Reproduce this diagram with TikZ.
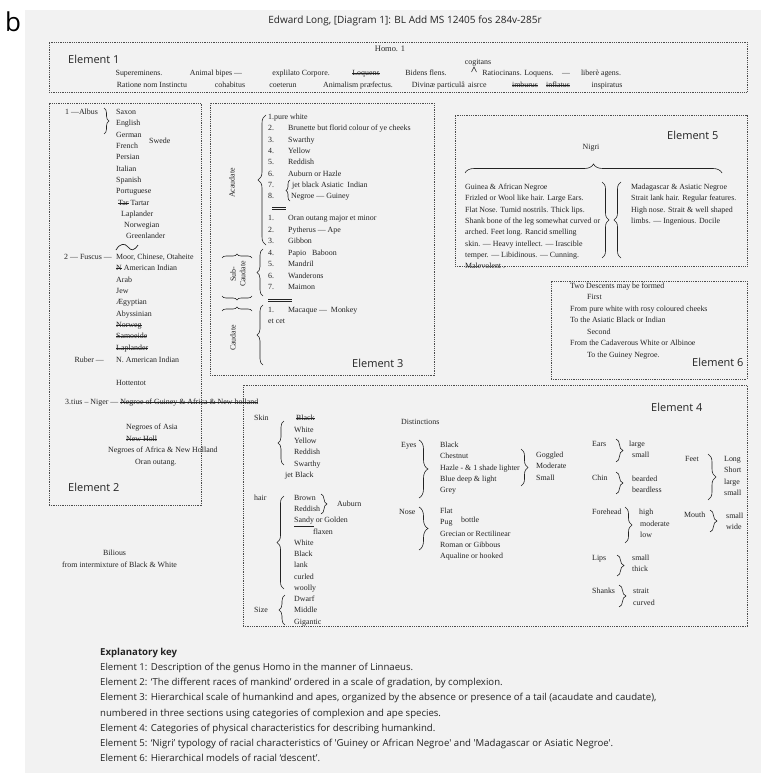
\documentclass[tikz,border=0pt]{standalone}
\usepackage{fontspec}
\setmainfont{Liberation Serif}
\newfontfamily\keyfont{Open Sans}
\usepackage{xcolor}
\usepackage{tikz}
\usetikzlibrary{decorations.pathreplacing}

\definecolor{panelgrey}{RGB}{242,242,242}
\definecolor{inkgrey}{RGB}{35,35,35}

% struck-through manuscript words
\newcommand{\strk}[1]{\setbox0\hbox{#1}\rlap{\rule[0.55ex]{\wd0}{0.5pt}}\box0}

\tikzset{
  elembox/.style={rectangle, draw=black!70, line width=0.8pt,
                  dash pattern=on 0.9pt off 0.9pt, inner sep=0pt},
  elemlabel/.style={anchor=west, inner sep=0pt, text=inkgrey,
                    font=\keyfont\fontsize{11}{13}\selectfont},
  keyline/.style={anchor=base west, inner sep=0pt, yshift=-3.3pt, text=inkgrey,
                  font=\keyfont\fontsize{9.6}{12}\selectfont},
  ms/.style={anchor=base west, inner sep=0pt, yshift=-2.6pt, text=inkgrey,
             font=\fontsize{7.9}{9.5}\selectfont},
  msc/.style={ms, anchor=base},
  mse/.style={ms, anchor=base east},
  rot/.style={inner sep=0pt, rotate=90, text=inkgrey, font=\fontsize{7.9}{9.5}\selectfont},
  curly/.style={decorate, decoration={brace, amplitude=#1}, draw=inkgrey, line width=0.6pt},
  curly/.default=6pt
}

\begin{document}
\begin{tikzpicture}[x=1pt, y=-1pt]

    \useasboundingbox (0,0) rectangle (761,773);
    \fill[white] (0,0) rectangle (761,773);
    \fill[panelgrey] (25,10) rectangle (761,773);

    \node[inner sep=0pt, font=\keyfont\fontsize{26}{28}\selectfont] (panelb) at (13,22) {b};
    \node[inner sep=0pt, text=inkgrey, font=\keyfont\fontsize{10}{12}\selectfont] (title) at (405,21)
        {Edward Long, [Diagram 1]: BL Add MS 12405 fos 284v-285r};

    % Element 1 : Homo
    \node[elembox, minimum width=698pt, minimum height=50pt] (elem1) at (398,67) {};
    \node[elemlabel] (elem1lab) at (68,59) {Element 1};
    \node[msc, font=\fontsize{8.4}{9}\selectfont] (homo) at (390,49) {Homo. 1};
    \node[msc] (supere) at (139,73) {Supereminens.};
    \node[msc] (bipes) at (216,73) {Animal bipes —};
    \node[msc] (explil) at (301,73) {explilato Corpore.};
    \node[msc] (loqA) at (366,73) {\strk{Loquens}};
    \node[msc] (bidens) at (426,73) {Bidens flens.};
    \node[msc] (cogit) at (478,62) {cogitans};
    \node[msc] (ratioc) at (518,73) {Ratiocinans. Loquens.};
    \node[msc] (dashA) at (566,73) {—};
    \node[msc] (libere) at (601,73) {liberè agens.};
    \node[msc] (ratione) at (152,85) {Ratione nom Instinctu};
    \node[msc] (cohab) at (230,85) {cohabitus};
    \node[msc] (coeter) at (283,85) {coeterun};
    \node[msc] (animal) at (358,85) {Animalism præfectus.};
    \node[mse] (divinae) at (465,85) {Divinæ particulâ};
    \node[ms] (aisrce) at (468,85) {aisrce};
    \node[msc] (imbur) at (525,85) {\strk{imburus}};
    \node[msc] (inflat) at (558,85) {\strk{inflatus}};
    \node[msc] (inspir) at (607,85) {inspiratus};
    \draw[inkgrey, line width=0.5pt] (471.5,72) -- (474,67) -- (476.5,72);

    % Element 2 : races by complexion
    \node[elembox, minimum width=152pt, minimum height=402pt] (elem2) at (125,304) {};
    \node[elemlabel] (elem2lab) at (68,487) {Element 2};
    \node[ms] (albus) at (65,112) {1 —Albus};
    \draw[curly=5pt] (104,108) -- (104,134);
    \node[ms] (saxon) at (116,112) {Saxon};
    \node[ms] (english) at (116,123.3) {English};
    \node[ms] (german) at (116,134.6) {German};
    \node[ms] (swede) at (149,141) {Swede};
    \node[ms] (french) at (116,145.9) {French};
    \node[ms] (persian) at (116,157.2) {Persian};
    \node[ms] (italian) at (116,168.5) {Italian};
    \node[ms] (spanish) at (116,179.8) {Spanish};
    \node[ms] (portug) at (116,191.1) {Portuguese};
    \node[ms] (tartar) at (118,202.4) {\strk{Tar}\ Tartar};
    \node[ms] (lapA) at (121,213.7) {Laplander};
    \node[ms] (norweg) at (124,225) {Norwegian};
    \node[ms] (greenl) at (126,236.3) {Greenlander};
    \draw[inkgrey, line width=0.7pt] (116,250) .. controls (120,243) and (125,243) .. (128,247)
        .. controls (131,251) and (134,251) .. (138,245);
    \node[ms] (fuscus) at (64,257) {2 — Fuscus —};
    \node[ms] (moor) at (116,257) {Moor, Chinese, Otaheite};
    \node[ms] (namer) at (116,268.3) {\strk{N}\ American Indian};
    \node[ms] (arab) at (116,279.6) {Arab};
    \node[ms] (jew) at (116,291) {Jew};
    \node[ms] (aegypt) at (116,302.3) {Ægyptian};
    \node[ms] (abyss) at (116,313.6) {Abyssinian};
    \node[ms] (norwB) at (116,325) {\strk{Norweg}};
    \node[ms] (samoe) at (116,336.3) {\strk{Samoeide}};
    \node[ms] (lapB) at (116,347.6) {\strk{Laplander}};
    \node[mse] (ruber) at (104,360) {Ruber —};
    \node[ms] (namerB) at (116,360) {N. American Indian};
    \node[ms] (hotten) at (116,383) {Hottentot};
    \node[ms] (niger) at (65,402) {3.tius – Niger — \strk{Negroe of Guiney \& Africa \& New holland}};
    \node[ms] (asia) at (126,427) {Negroes of Asia};
    \node[ms] (newholl) at (126,438.5) {\strk{New Holl}};
    \node[ms] (africa) at (108,450) {Negroes of Africa \& New Holland};
    \node[ms] (oran) at (135,462) {Oran outang.};

    % Element 3 : acaudate / caudate
    \node[elembox, minimum width=224pt, minimum height=272pt] (elem3) at (322,239) {};
    \node[elemlabel] (elem3lab) at (352,363) {Element 3};
    \node[rot] (acaud) at (232,183) {Acaudate};
    \draw[curly=8pt] (266,245) -- (266,115);
    \node[ms] (w1) at (268,117) {1.pure white};
    \node[ms] (n2) at (268,128.3) {2.};
    \node[ms] (w2) at (288,128.3) {Brunette but florid colour of ye cheeks};
    \node[ms] (n3) at (268,139.6) {3.};
    \node[ms] (w3) at (288,139.6) {Swarthy};
    \node[ms] (n4) at (268,150.9) {4.};
    \node[ms] (w4) at (288,150.9) {Yellow};
    \node[ms] (n5) at (268,162.2) {5.};
    \node[ms] (w5) at (288,162.2) {Reddish};
    \node[ms] (n6) at (268,173.5) {6.};
    \node[ms] (w6) at (288,173.5) {Auburn or Hazle};
    \node[ms] (n7) at (268,184.8) {7.};
    \node[ms] (w7) at (292,184.8) {jet black Asiatic\ \ Indian};
    \node[ms] (n8) at (268,196.1) {8.};
    \node[ms] (w8) at (291,196.1) {Negroe — Guiney};
    \draw[curly=4pt] (290,201) -- (290,180);
    \draw[inkgrey, line width=0.6pt] (272,207) -- (286,207) (272,209.5) -- (286,209.5);
    \node[ms] (a1) at (268,218) {1.};
    \node[ms] (oranB) at (288,218) {Oran outang major et minor};
    \node[ms] (a2) at (268,229.5) {2.};
    \node[ms] (pyth) at (288,229.5) {Pytherus — Ape};
    \node[ms] (a3) at (268,241) {3.};
    \node[ms] (gibbon) at (288,241) {Gibbon};
    \node[ms] (a4) at (268,252.5) {4.};
    \node[ms] (papio) at (288,252.5) {Papio\ \ \ Baboon};
    \node[ms] (a5) at (268,264) {5.};
    \node[ms] (mandril) at (288,264) {Mandril};
    \node[ms] (a6) at (268,275.5) {6.};
    \node[ms] (wander) at (288,275.5) {Wanderons};
    \node[ms] (a7) at (268,287) {7.};
    \node[ms] (maimon) at (288,287) {Maimon};
    \draw[curly=6pt] (263,296) -- (263,249);
    \node[rot, align=center] (subcaud) at (238,274) {Sub-\\Caudate};
    \draw[curly=4pt] (222,258) -- (252,258);
    \draw[curly=4pt] (252,296) -- (222,296);
    \draw[inkgrey, line width=0.6pt] (268,299) -- (292,299) (268,301.5) -- (292,301.5);
    \draw[curly=4pt] (222,311) -- (252,311);
    \node[ms] (c1) at (268,310) {1.};
    \node[ms] (macaq) at (288,310) {Macaque —\ \ Monkey};
    \node[ms] (etcet) at (268,321) {et cet};
    \draw[curly=6pt] (263,365) -- (263,305);
    \node[rot] (caud) at (233,338) {Caudate};

    % Element 5 : Nigri
    \node[elembox, minimum width=292pt, minimum height=151pt] (elem5) at (601,190.5) {};
    \node[elemlabel] (elem5lab) at (667,135) {Element 5};
    \node[msc] (nigri) at (591,147) {Nigri};
    \draw[curly=9pt] (465,173) -- (722,173);
    \node[ms] (gu1) at (465,187) {Guinea \& African Negroe};
    \node[ms] (gu2) at (465,198.3) {Frizled or Wool like hair. Large Ears.};
    \node[ms] (gu3) at (465,209.6) {Flat Nose. Tumid nostrils. Thick lips.};
    \node[ms] (gu4) at (465,220.9) {Shank bone of the leg somewhat curved or};
    \node[ms] (gu5) at (465,232.2) {arched. Feet long. Rancid smelling};
    \node[ms] (gu6) at (465,243.5) {skin. — Heavy intellect. — Irascible};
    \node[ms] (gu7) at (465,254.8) {temper. — Libidinous. — Cunning.};
    \node[ms] (gu8) at (465,266.1) {Malevolent .};
    \draw[curly=7pt] (602,182) -- (602,258);
    \draw[curly=7pt] (621,258) -- (621,182);
    \node[ms] (ma1) at (631,187) {Madagascar \& Asiatic Negroe};
    \node[ms] (ma2) at (631,198.3) {Strait lank hair. Regular features.};
    \node[ms] (ma3) at (631,209.6) {High nose. Strait \& well shaped};
    \node[ms] (ma4) at (631,220.9) {limbs. — Ingenious. Docile};

    % Element 6 : descents
    \node[elembox, minimum width=196pt, minimum height=98pt] (elem6) at (649,330) {};
    \node[elemlabel] (elem6lab) at (692,362) {Element 6};
    \node[ms] (de1) at (570,285.5) {Two Descents may be formed};
    \node[ms] (de2) at (587,297) {First};
    \node[ms] (de3) at (570,308.5) {From pure white with rosy coloured cheeks};
    \node[ms] (de4) at (570,320) {To the Asiatic Black or Indian};
    \node[ms] (de5) at (587,331.5) {Second};
    \node[ms] (de6) at (570,343) {From the Cadaverous White or Albinoe};
    \node[ms] (de7) at (587,354.5) {To the Guiney Negroe.};

    % Element 4 : distinctions
    \node[elembox, minimum width=504pt, minimum height=241pt] (elem4) at (495,505.5) {};
    \node[elemlabel] (elem4lab) at (651,407) {Element 4};
    \node[ms] (skin) at (254,418) {Skin};
    \draw[curly=6pt] (284,465) -- (284,421);
    \node[ms] (sk1) at (296,418) {\strk{Black}};
    \node[ms] (sk2) at (294,429.5) {White};
    \node[ms] (sk3) at (294,441) {Yellow};
    \node[ms] (sk4) at (294,452.3) {Reddish};
    \node[ms] (sk5) at (294,463.6) {Swarthy};
    \node[ms] (sk6) at (285,475) {jet Black};
    \node[ms] (hair) at (254,497.5) {hair};
    \draw[curly=7pt] (284,589) -- (284,496);
    \node[ms] (hr1) at (294,497.5) {Brown};
    \node[ms] (hr2) at (294,508.8) {Reddish};
    \draw[curly=6pt] (321,494) -- (321,514);
    \node[ms] (auburn) at (337,504) {Auburn};
    \node[ms] (hr3) at (294,520.1) {\underline{Sandy} or Golden};
    \node[ms] (hr4) at (313,531.4) {flaxen};
    \node[ms] (hr5) at (294,542.7) {White};
    \node[ms] (hr6) at (294,554) {Black};
    \node[ms] (hr7) at (294,565.3) {lank};
    \node[ms] (hr8) at (294,576.6) {curled};
    \node[ms] (hr9) at (294,587.9) {woolly};
    \node[ms] (size) at (254,610) {Size};
    \draw[curly=6pt] (285,625) -- (285,595);
    \node[ms] (sz1) at (294,599) {Dwarf};
    \node[ms] (sz2) at (294,610.3) {Middle};
    \node[ms] (sz3) at (294,621.6) {Gigantic};

    \node[ms] (distinct) at (401,422) {Distinctions};
    \node[ms] (eyes) at (401,445) {Eyes};
    \draw[curly=9pt] (419,440) -- (419,498);
    \node[ms] (ey1) at (440,445) {Black};
    \node[ms] (ey2) at (440,456.3) {Chestnut};
    \node[ms] (ey3) at (440,467.6) {Hazle - \& 1 shade lighter};
    \node[ms] (ey4) at (440,478.9) {Blue deep \& light};
    \node[ms] (ey5) at (440,490.2) {Grey};
    \draw[curly=7pt] (521,449) -- (521,486);
    \node[ms] (gog1) at (536,455) {Goggled};
    \node[ms] (gog2) at (536,466.3) {Moderate};
    \node[ms] (gog3) at (536,477.6) {Small};
    \node[ms] (nose) at (399,512) {Nose};
    \draw[curly=9pt] (419,507) -- (419,550);
    \node[ms] (no1) at (440,511) {Flat};
    \node[ms] (no2) at (440,522.3) {Pug};
    \node[ms] (bottle) at (461,519.5) {bottle};
    \node[ms] (no3) at (440,533.6) {Grecian or Rectilinear};
    \node[ms] (no4) at (440,544.9) {Roman or Gibbous};
    \node[ms] (no5) at (440,556.2) {Aqualine or hooked};

    \node[ms] (ears) at (592,444) {Ears};
    \draw[curly=7pt] (616,439) -- (616,462);
    \node[ms] (ea1) at (629,444) {large};
    \node[ms] (ea2) at (632,455.3) {small};
    \node[ms] (chin) at (592,478) {Chin};
    \draw[curly=7pt] (616,472) -- (616,494);
    \node[ms] (ch1) at (632,478.5) {bearded};
    \node[ms] (ch2) at (632,489.8) {beardless};
    \node[ms] (forehead) at (592,512) {Forehead};
    \draw[curly=7pt] (625,507) -- (625,543);
    \node[ms] (fo1) at (639,512) {high};
    \node[ms] (fo2) at (640,523.5) {moderate};
    \node[ms] (fo3) at (640,535) {low};
    \node[ms] (lips) at (592,558) {Lips};
    \draw[curly=7pt] (617,555) -- (617,576);
    \node[ms] (li1) at (632,558) {small};
    \node[ms] (li2) at (632,569.3) {thick};
    \node[ms] (shanks) at (592,591) {Shanks};
    \draw[curly=7pt] (619,585) -- (619,607);
    \node[ms] (sh1) at (633,591) {strait};
    \node[ms] (sh2) at (633,602.5) {curved};
    \node[ms] (feet) at (685,459) {Feet};
    \draw[curly=8pt] (708,454) -- (708,500);
    \node[ms] (fe1) at (724,459) {Long};
    \node[ms] (fe2) at (724,470.3) {Short};
    \node[ms] (fe3) at (724,481.6) {large};
    \node[ms] (fe4) at (724,492.9) {small};
    \node[ms] (mouth) at (684,515) {Mouth};
    \draw[curly=7pt] (710,510) -- (710,532);
    \node[ms] (mo1) at (726,515.5) {small};
    \node[ms] (mo2) at (726,527) {wide};

    % loose note
    \node[ms] (bilious) at (103,553) {Bilious};
    \node[ms] (intermix) at (62,565) {from intermixture of Black \& White};

    % key
    \node[keyline, font=\keyfont\bfseries\fontsize{9.6}{12}\selectfont] (keyhead) at (100,652) {Explanatory key};
    \node[keyline] (key1) at (100,667.2) {Element 1: Description of the genus Homo in the manner of Linnaeus.};
    \node[keyline] (key2) at (100,682.4) {Element 2: ‘The different races of mankind’ ordered in a scale of gradation, by complexion.};
    \node[keyline] (key3) at (100,697.6) {Element 3: Hierarchical scale of humankind and apes, organized by the absence or presence of a tail (acaudate and caudate),};
    \node[keyline] (key3b) at (100,712.8) {numbered in three sections using categories of complexion and ape species.};
    \node[keyline] (key4) at (100,728) {Element 4: Categories of physical characteristics for describing humankind.};
    \node[keyline] (key5) at (100,743.2) {Element 5: ‘Nigri’ typology of racial characteristics of 'Guiney or African Negroe' and 'Madagascar or Asiatic Negroe'.};
    \node[keyline] (key6) at (100,758.4) {Element 6: Hierarchical models of racial ‘descent’.};

\end{tikzpicture}
\end{document}
